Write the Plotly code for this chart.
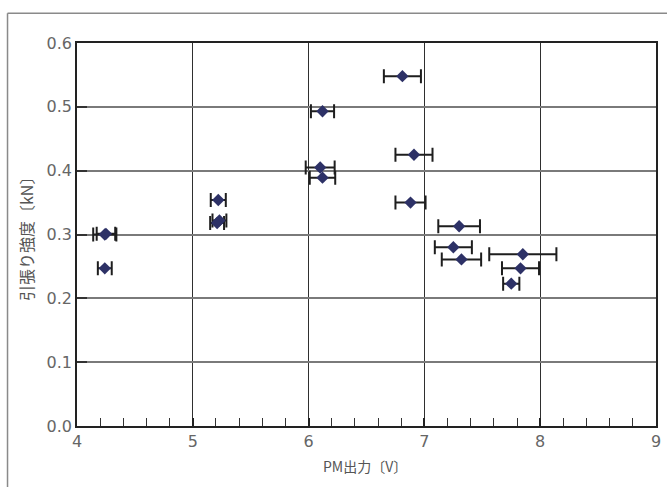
import plotly.graph_objects as go

# Data
pm_output = [4.25, 4.24, 4.24, 5.22, 5.21, 5.23, 6.12, 6.81, 6.91, 6.10, 6.12, 6.88,
             7.30, 7.25, 7.32, 7.85, 7.83, 7.75]
strength = [0.301, 0.300, 0.247, 0.354, 0.318, 0.322, 0.493, 0.548, 0.425, 0.405, 0.389, 0.350,
            0.313, 0.280, 0.261, 0.269, 0.247, 0.223]
x_err = [0.08, 0.10, 0.06, 0.065, 0.06, 0.06, 0.10, 0.16, 0.16, 0.125, 0.11, 0.13,
         0.18, 0.16, 0.17, 0.29, 0.16, 0.07]

x_ticks = [4, 5, 6, 7, 8, 9]
y_ticks = [0.0, 0.1, 0.2, 0.3, 0.4, 0.5, 0.6]
y_tick_labels = ["0.0", "0.1", "0.2", "0.3", "0.4", "0.5", "0.6"]
x_title = "PM出力〔V〕"
y_title = "引張り強度〔kN〕"

fig = go.Figure()
fig.add_trace(go.Scatter(
    x=pm_output, y=strength, mode="markers",
    marker=dict(symbol="diamond", size=9.5, color="#2d3166", line=dict(width=0)),
    error_x=dict(type="data", array=x_err, visible=True, color="#1e1e1e",
                 thickness=2, width=7),
    showlegend=False, hoverinfo="x+y",
))

fig.update_layout(
    width=667, height=487,
    margin=dict(l=77, r=6, t=43, b=61),
    paper_bgcolor="white", plot_bgcolor="white",
    font=dict(family="DejaVu Sans", color="#555555"),
)
fig.update_xaxes(
    range=[4, 9], tickvals=x_ticks, ticktext=[str(v) for v in x_ticks],
    showgrid=True, gridcolor="#2f2f2f", gridwidth=1,
    showline=True, linecolor="#222222", linewidth=1.5, mirror=True,
    ticks="inside", ticklen=8, tickcolor="#222222", tickwidth=1.5,
    minor=dict(dtick=0.2, ticks="inside", ticklen=8, tickcolor="#333333",
               tickwidth=1.2, showgrid=False),
    tickfont=dict(family="DejaVu Sans", size=16, color="#666666"),
    zeroline=False, fixedrange=True,
)
fig.update_yaxes(
    range=[0, 0.6], tickvals=y_ticks, ticktext=y_tick_labels,
    showgrid=True, gridcolor="#7a7a7a", gridwidth=1.6,
    showline=True, linecolor="#222222", linewidth=1.5, mirror=True,
    ticks="inside", ticklen=10, tickcolor="#333333", tickwidth=2,
    tickfont=dict(family="DejaVu Sans", size=16, color="#666666"),
    zeroline=False, fixedrange=True,
)

# Axis titles
fig.add_annotation(text=x_title, xref="paper", yref="paper", x=0.498, y=-0.104,
                   xanchor="center", yanchor="middle", showarrow=False,
                   font=dict(family="Noto Sans CJK JP", size=14, color="#555555"))
fig.add_annotation(text=y_title, xref="paper", yref="paper", x=-0.089, y=0.5,
                   xanchor="center", yanchor="middle", showarrow=False, textangle=-90,
                   font=dict(family="Noto Sans CJK JP", size=16, color="#555555"))

# Outer frame (top and left edges of the original panel)
fig.add_shape(type="line", xref="paper", yref="paper", x0=-0.12, y0=1.078, x1=1.2, y1=1.078,
              line=dict(color="#8a8a8a", width=1.5))
fig.add_shape(type="line", xref="paper", yref="paper", x0=-0.12, y0=1.078, x1=-0.12, y1=-0.3,
              line=dict(color="#8a8a8a", width=1.5))

fig.write_html("out.html", config={"displayModeBar": False},
               post_script="document.body.style.margin='0';document.body.style.overflow='hidden';")
